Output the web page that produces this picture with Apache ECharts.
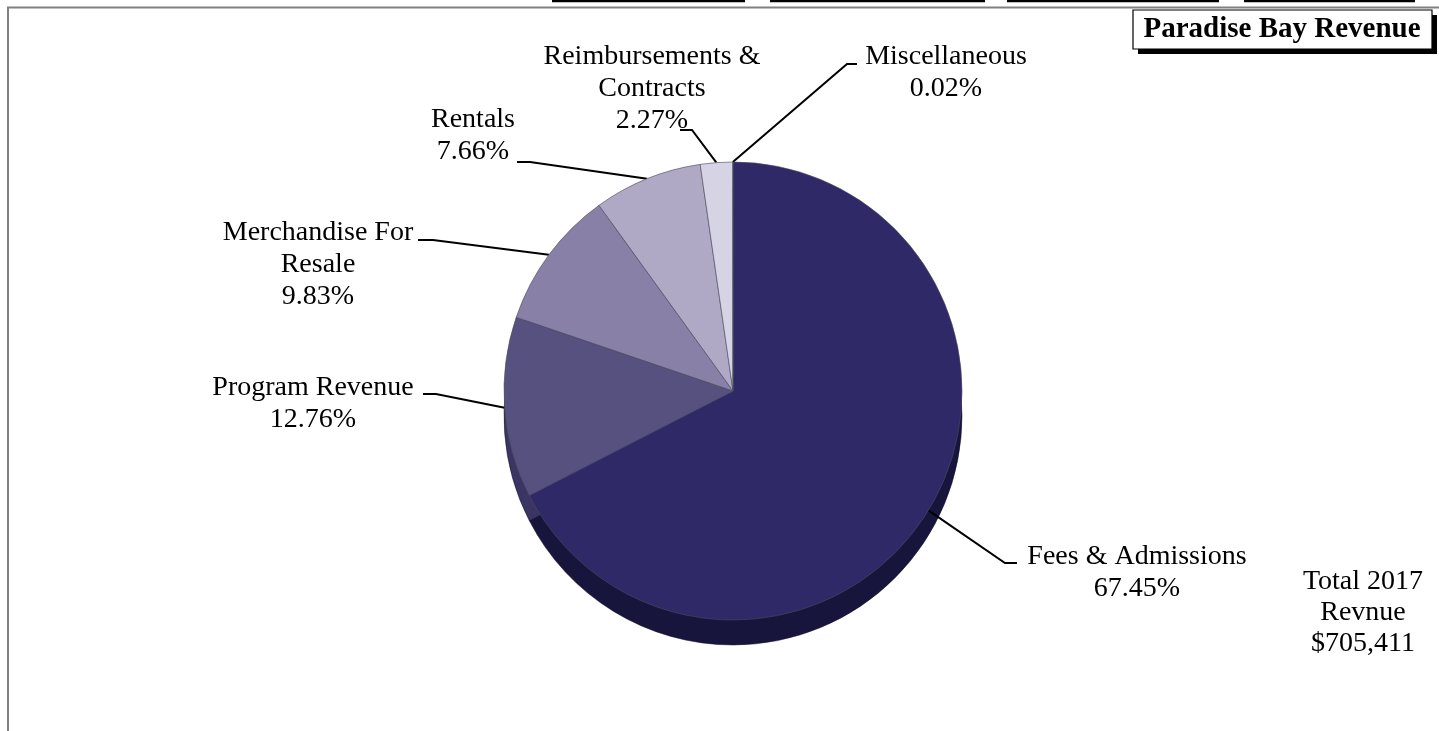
<!DOCTYPE html>
<html>
<head>
<meta charset="utf-8">
<title>Paradise Bay Revenue</title>
<script src="https://cdn.jsdelivr.net/npm/echarts@6/dist/echarts.min.js"></script>
<style>
  html, body { margin: 0; padding: 0; background: #ffffff; }
  #chart { width: 1439px; height: 731px; }
</style>
</head>
<body>
<div id="chart"></div>
<script>
// Revenue categories and their share of the 2017 total (percent)
const categories = [
  'Fees & Admissions',
  'Program Revenue',
  'Merchandise For\nResale',
  'Rentals',
  'Reimbursements &\nContracts',
  'Miscellaneous'
];
const shares = [67.45, 12.76, 9.83, 7.66, 2.27, 0.02];

const totalLines = ['Total 2017', 'Revnue', '$705,411'];
const chartTitle = 'Paradise Bay Revenue';

// Slice fills: top face and darker side of the disc
const topColors  = ['#2f2a67', '#56517f', '#8880a6', '#b0a9c6', '#d6d4e4', '#f2f2f7'];
const sideColors = ['#17153b', '#3a3563', '#605a82', '#857f9f', '#a6a4b8', '#c4c4d0'];

// Where each label block sits and how its leader line bends into it
const labelSpots = [
  { x: 1137, y: 541, bend: [1005, 563], end: [1017, 563] },
  { x: 313,  y: 372, bend: [436, 394],  end: [423, 394] },
  { x: 318,  y: 217, bend: [433, 240],  end: [418, 240] },
  { x: 473,  y: 104, bend: [530, 162],  end: [517, 162] },
  { x: 652,  y: 41,  bend: [692, 130],  end: [680, 130] },
  { x: 946,  y: 41,  bend: [847, 64],   end: [857, 64] }
];

const SERIF = "'Liberation Serif', 'Times New Roman', Times, serif";
const CENTER = [733, 391];
const RADIUS = 229;
const DEPTH = 25;

function slices(palette) {
  return categories.map((name, i) => ({
    name: name,
    value: shares[i],
    itemStyle: { color: palette[i] }
  }));
}

const chart = echarts.init(document.getElementById('chart'), null, { renderer: 'canvas' });

const option = {
  backgroundColor: '#ffffff',
  animation: false,
  graphic: [
    // frame lines
    { type: 'line', shape: { x1: 7, y1: 7.5, x2: 1439, y2: 7.5 }, style: { stroke: '#808080', lineWidth: 2 }, z: 10 },
    { type: 'line', shape: { x1: 8, y1: 7, x2: 8, y2: 731 }, style: { stroke: '#808080', lineWidth: 2 }, z: 10 },
    // box edges peeking in from above
    { type: 'line', shape: { x1: 552, y1: 1, x2: 745, y2: 1 }, style: { stroke: '#000', lineWidth: 2.5 }, z: 10 },
    { type: 'line', shape: { x1: 770, y1: 1, x2: 985, y2: 1 }, style: { stroke: '#000', lineWidth: 2.5 }, z: 10 },
    { type: 'line', shape: { x1: 1007, y1: 1, x2: 1219, y2: 1 }, style: { stroke: '#000', lineWidth: 2.5 }, z: 10 },
    { type: 'line', shape: { x1: 1244, y1: 1, x2: 1415, y2: 1 }, style: { stroke: '#000', lineWidth: 2.5 }, z: 10 },
    // title box with drop shadow
    { type: 'rect', shape: { x: 1138, y: 15, width: 299, height: 39 }, style: { fill: '#000' }, z: 10 },
    { type: 'rect', shape: { x: 1133, y: 10, width: 299, height: 39 }, style: { fill: '#fff', stroke: '#000', lineWidth: 1.2 }, z: 11 },
    {
      type: 'text', x: 1282, y: 30, z: 12,
      style: {
        text: chartTitle, fill: '#000', font: 'bold 29px ' + SERIF,
        textAlign: 'center', textVerticalAlign: 'middle'
      }
    },
    // total revenue note
    {
      type: 'text', x: 1363, y: 566, z: 12,
      style: {
        text: totalLines.join('\n'), fill: '#000', fontFamily: SERIF, fontSize: 28,
        lineHeight: 31, textAlign: 'center', textVerticalAlign: 'top'
      }
    }
  ],
  series: [
    {
      // side wall of the disc
      type: 'pie',
      name: 'side',
      silent: true,
      z: 1,
      center: [CENTER[0], CENTER[1] + DEPTH],
      radius: RADIUS,
      startAngle: 90,
      clockwise: true,
      label: { show: false },
      labelLine: { show: false },
      emphasis: { disabled: true },
      itemStyle: { borderColor: '#100e2a', borderWidth: 0.5 },
      data: slices(sideColors)
    },
    {
      type: 'pie',
      name: 'revenue',
      z: 2,
      center: CENTER,
      radius: RADIUS,
      startAngle: 90,
      clockwise: true,
      avoidLabelOverlap: false,
      itemStyle: { borderColor: '#4a4a5c', borderWidth: 0.6 },
      emphasis: { disabled: true },
      label: {
        show: true,
        position: 'outside',
        formatter: p => p.name + '\n' + p.value.toFixed(2) + '%',
        fontFamily: SERIF,
        fontSize: 28,
        lineHeight: 32,
        color: '#000',
        align: 'center'
      },
      labelLine: {
        show: true,
        length: 20,
        length2: 20,
        lineStyle: { color: '#000', width: 2 }
      },
      labelLayout: function (params) {
        const spot = labelSpots[params.dataIndex];
        if (!spot) return {};
        const out = { x: spot.x, y: spot.y, align: 'center', verticalAlign: 'top' };
        if (params.labelLinePoints && params.labelLinePoints.length) {
          out.labelLinePoints = [params.labelLinePoints[0], spot.bend, spot.end];
        }
        return out;
      },
      data: slices(topColors)
    }
  ]
};

chart.setOption(option);
</script>
</body>
</html>
